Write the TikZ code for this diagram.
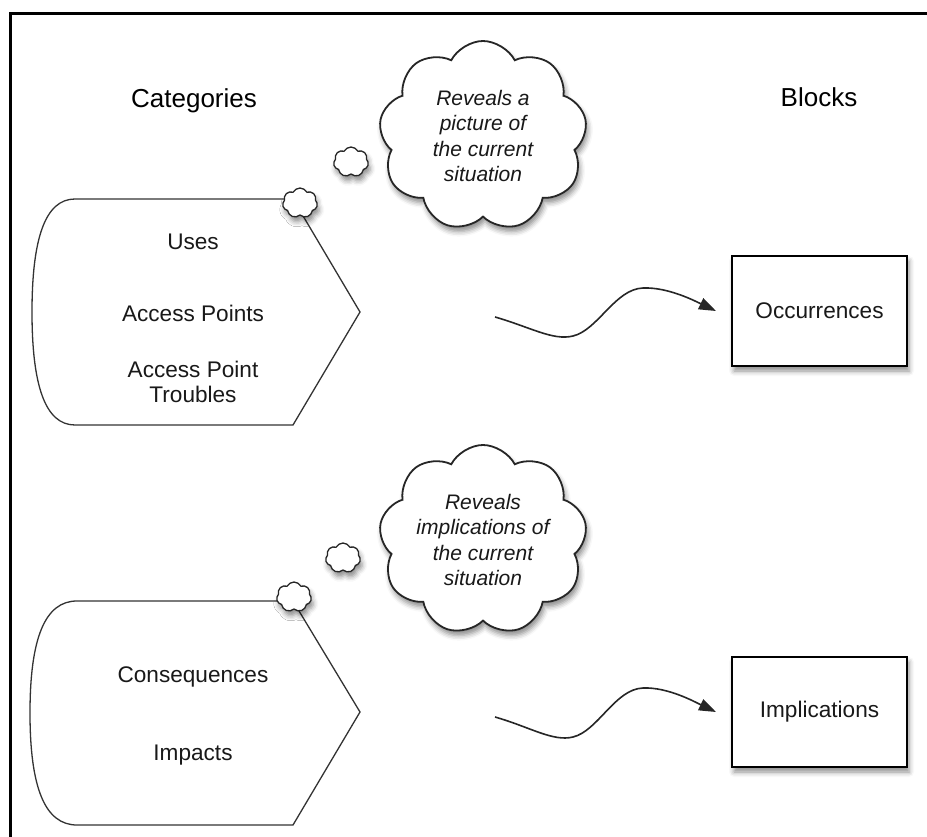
\documentclass[tikz,border=0pt]{standalone}
\usepackage{fontspec}
\setmainfont{Liberation Sans}
\usetikzlibrary{shapes.symbols,shadows,shadows.blur,arrows.meta}
\begin{document}
\begin{tikzpicture}[x=1pt,y=-1pt,
  frameline/.style={line width=3pt,black},
  catshape/.style={draw=black!80,line width=1.3pt,fill=white},
  body/.style={font=\fontsize{22.6}{25.3}\selectfont,align=center,text=black!90},
  header/.style={font=\fontsize{26}{30}\selectfont,text=black},
  softshadow/.style={blur shadow={shadow xshift=2pt,shadow yshift=-5pt,shadow blur radius=5pt,shadow opacity=45}},
  thought/.style={cloud,cloud puffs=9,cloud puff arc=125,cloud ignores aspect,draw=black!85,line width=1.8pt,fill=white,softshadow,
    minimum width=208pt,minimum height=190pt,inner sep=0pt,
    font=\fontsize{21}{25.3}\selectfont\itshape,align=center,text=black!90},
  puff/.style={cloud,cloud puffs=7,cloud puff arc=125,cloud ignores aspect,draw=black!85,line width=1.3pt,fill=white,softshadow,
    minimum width=35pt,minimum height=30pt,inner sep=0pt},
  block/.style={draw=black,line width=2pt,fill=white,minimum width=175pt,minimum height=110pt,softshadow,body},
  wave/.style={draw=black!85,line width=1.6pt,-{Triangle[length=17pt,width=12pt]}}
]
\useasboundingbox (0,0) rectangle (927,837);
% frame (top and left edges)
\draw[frameline] (10,837) -- (10,14) -- (927,14);

% headers
\node[header] (hcat) at (194,101) {Categories};
\node[header] (hblk) at (819,97) {Blocks};

% top category shape
\draw[catshape] (75,199) -- (293,199) -- (360,312) -- (293,425) -- (75,425)
  .. controls (45,425) and (32,385) .. (32,312)
  .. controls (32,239) and (45,199) .. (75,199) -- cycle;
\node[body] (uses) at (193,242) {Uses};
\node[body] (ap) at (193,313) {Access Points};
\node[body] (apt) at (193,382) {Access Point\\Troubles};

% bottom category shape
\draw[catshape] (77,601) -- (293,601) -- (360,712) -- (293,825) -- (77,825)
  .. controls (45,825) and (30,788) .. (30,713)
  .. controls (30,638) and (45,601) .. (77,601) -- cycle;
\node[body] (cons) at (193,677) {Consequences};
\node[body] (imp) at (193,755) {Impacts};

% thought clouds
\node[puff] (p1a) at (300,203) {};
\node[puff] (p1b) at (351,162) {};
\node[thought] (th1) at (483,136) {Reveals a\\picture of\\the current\\situation};

\node[puff] (p2a) at (294,597) {};
\node[puff] (p2b) at (343,558) {};
\node[thought] (th2) at (483,540) {Reveals\\implications of\\the current\\situation};

% blocks
\node[block] (occ) at (819.5,311) {Occurrences};
\node[block] (impl) at (819.5,712) {Implications};

% wavy arrows
\coordinate (w1s) at (495,317);
\coordinate (w2s) at (495,717);
\draw[wave] (w1s) .. controls (530,327) and (553,341) .. (573,336)
  .. controls (598,330) and (615,289) .. (643,288)
  .. controls (668,287) and (695,301) .. ([xshift=-15pt]occ.west);
\draw[wave] (w2s) .. controls (530,727) and (553,742) .. (573,737)
  .. controls (598,731) and (615,689) .. (643,688)
  .. controls (668,687) and (695,702) .. ([xshift=-15pt]impl.west);
\end{tikzpicture}
\end{document}
